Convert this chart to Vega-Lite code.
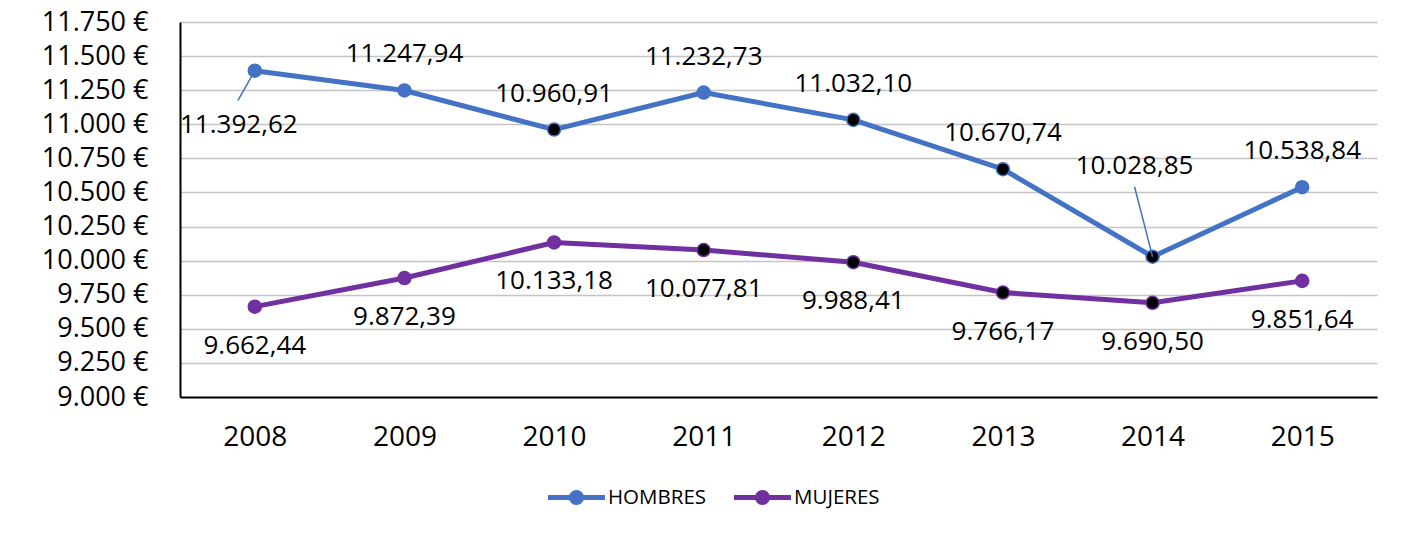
{
  "$schema": "https://vega.github.io/schema/vega-lite/v6.json",
  "width": 1197,
  "height": 375,
  "autosize": {"type": "none"},
  "padding": {"left": 180, "top": 22, "right": 49, "bottom": 136},
  "background": "#ffffff",
  "config": {
    "locale": {"number": {"decimal": ",", "thousands": ".", "grouping": [3], "currency": ["", " €"]}},
    "font": "Open Sans",
    "view": {"stroke": null},
    "axis": {"labelColor": "#000000", "labelFont": "Open Sans"}
  },
  "data": {
    "values": [
      {"year": 2008, "series": "HOMBRES", "value": 11392.62},
      {"year": 2009, "series": "HOMBRES", "value": 11247.94},
      {"year": 2010, "series": "HOMBRES", "value": 10960.91},
      {"year": 2011, "series": "HOMBRES", "value": 11232.73},
      {"year": 2012, "series": "HOMBRES", "value": 11032.10},
      {"year": 2013, "series": "HOMBRES", "value": 10670.74},
      {"year": 2014, "series": "HOMBRES", "value": 10028.85},
      {"year": 2015, "series": "HOMBRES", "value": 10538.84},
      {"year": 2008, "series": "MUJERES", "value": 9662.44},
      {"year": 2009, "series": "MUJERES", "value": 9872.39},
      {"year": 2010, "series": "MUJERES", "value": 10133.18},
      {"year": 2011, "series": "MUJERES", "value": 10077.81},
      {"year": 2012, "series": "MUJERES", "value": 9988.41},
      {"year": 2013, "series": "MUJERES", "value": 9766.17},
      {"year": 2014, "series": "MUJERES", "value": 9690.50},
      {"year": 2015, "series": "MUJERES", "value": 9851.64}
    ]
  },
  "encoding": {
    "x": {
      "field": "year", "type": "ordinal",
      "scale": {"type": "point", "padding": 0.5},
      "axis": {"title": null, "labelAngle": 0, "labelFontSize": 28, "labelPadding": 26, "ticks": false, "domainColor": "#000000", "domainWidth": 2, "grid": false}
    },
    "y": {
      "field": "value", "type": "quantitative",
      "scale": {"domain": [9000, 11750], "nice": false, "zero": false},
      "axis": {"title": null, "values": [9000, 9250, 9500, 9750, 10000, 10250, 10500, 10750, 11000, 11250, 11500, 11750], "format": "$,.0f", "labelFontSize": 27, "labelPadding": 32, "ticks": false, "gridColor": "#c4c4c4", "gridWidth": 1.3, "domainColor": "#000000", "domainWidth": 2}
    }
  },
  "layer": [
    {
      "mark": {"type": "line", "strokeWidth": 5, "strokeCap": "round", "strokeJoin": "round"},
      "encoding": {
        "color": {
          "field": "series", "type": "nominal",
          "scale": {"domain": ["HOMBRES", "MUJERES"], "range": ["#4472C4", "#7030A0"]},
          "legend": {
            "orient": "none", "legendX": 368, "legendY": 447, "direction": "horizontal", "title": null,
            "padding": 0, "offset": 0,
            "symbolType": "M-1,-0.088L1,-0.088L1,0.088L-1,0.088Z M-0.263,0A0.263,0.263 0 1,1 0.263,0A0.263,0.263 0 1,1 -0.263,0Z",
            "symbolSize": 3249, "symbolStrokeWidth": 0, "symbolOpacity": 1,
            "labelFontSize": 20.5, "labelColor": "#000000", "labelFont": "Open Sans", "labelOffset": 3, "columnPadding": 27,
            "encode": {"symbols": {"update": {"fill": {"scale": "color", "field": "value"}, "strokeWidth": {"value": 0}, "opacity": {"value": 1}}}}
          }
        }
      }
    },
    {
      "mark": {"type": "point", "filled": true, "size": 170, "strokeWidth": 1.5, "opacity": 1},
      "encoding": {
        "fill": {
          "condition": {"test": "(datum.series == 'HOMBRES' && (datum.year == 2010 || datum.year == 2012 || datum.year == 2013 || datum.year == 2014)) || (datum.series == 'MUJERES' && datum.year >= 2011 && datum.year <= 2014)", "value": "#000000"},
          "field": "series", "type": "nominal",
          "scale": {"domain": ["HOMBRES", "MUJERES"], "range": ["#4472C4", "#7030A0"]},
          "legend": null
        },
        "stroke": {
          "field": "series", "type": "nominal",
          "scale": {"domain": ["HOMBRES", "MUJERES"], "range": ["#4472C4", "#7030A0"]},
          "legend": null
        }
      }
    },
    {
      "transform": [{"filter": "datum.series == 'HOMBRES' && datum.year == 2008"}],
      "mark": {"type": "rule", "color": "#4472C4", "strokeWidth": 1.5, "x2Offset": -17, "y2Offset": 30},
      "encoding": {"x2": {"field": "year"}, "y2": {"field": "value"}}
    },
    {
      "transform": [{"filter": "datum.series == 'HOMBRES' && datum.year == 2014"}],
      "mark": {"type": "rule", "color": "#4472C4", "strokeWidth": 1.5, "x2Offset": -18, "y2Offset": -70},
      "encoding": {"x2": {"field": "year"}, "y2": {"field": "value"}}
    },
    {
      "transform": [{"filter": "datum.series == 'HOMBRES' && datum.year != 2008 && datum.year != 2014"}],
      "mark": {"type": "text", "fontSize": 26, "color": "#000000", "baseline": "middle", "dy": -36},
      "encoding": {"text": {"field": "value", "type": "quantitative", "format": ",.2f"}}
    },
    {
      "transform": [{"filter": "datum.series == 'HOMBRES' && datum.year == 2008"}],
      "mark": {"type": "text", "fontSize": 26, "color": "#000000", "baseline": "middle", "dx": -16, "dy": 54},
      "encoding": {"text": {"field": "value", "type": "quantitative", "format": ",.2f"}}
    },
    {
      "transform": [{"filter": "datum.series == 'HOMBRES' && datum.year == 2014"}],
      "mark": {"type": "text", "fontSize": 26, "color": "#000000", "baseline": "middle", "dx": -18, "dy": -91},
      "encoding": {"text": {"field": "value", "type": "quantitative", "format": ",.2f"}}
    },
    {
      "transform": [{"filter": "datum.series == 'MUJERES'"}],
      "mark": {"type": "text", "fontSize": 26, "color": "#000000", "baseline": "middle", "dy": 39},
      "encoding": {"text": {"field": "value", "type": "quantitative", "format": ",.2f"}}
    }
  ]
}
